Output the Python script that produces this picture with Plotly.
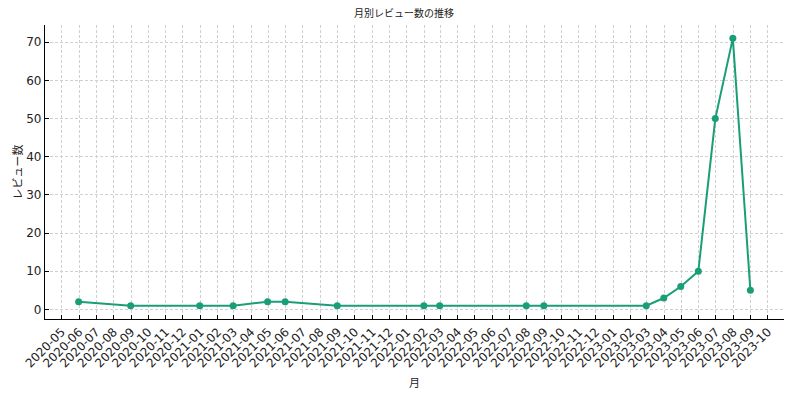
import plotly.graph_objects as go

dates = ["2020-05-31", "2020-08-31", "2020-12-31", "2021-02-28", "2021-04-30",
         "2021-05-31", "2021-08-31", "2022-01-31", "2022-02-28", "2022-07-31",
         "2022-08-31", "2023-02-28", "2023-03-31", "2023-04-30", "2023-05-31",
         "2023-06-30", "2023-07-31", "2023-08-31"]
counts = [2, 1, 1, 1, 2, 2, 1, 1, 1, 1, 1, 1, 3, 6, 10, 50, 71, 5]

title_text = "月別レビュー数の推移"
x_label = "月"
y_label = "レビュー数"

font_family = "DejaVu Sans, Noto Sans CJK JP, sans-serif"
color = "#1a9e77"

fig = go.Figure(go.Scatter(
    x=dates, y=counts, mode="lines+markers",
    line=dict(color=color, width=2),
    marker=dict(color=color, size=7),
))

axis_common = dict(
    showline=True, linecolor="black", linewidth=1.2,
    ticks="inside", ticklen=4, tickcolor="black",
    showgrid=True, gridcolor="#d0d0d0", gridwidth=0.8, griddash="3px,2px",
    zeroline=False, mirror=False,
    tickfont=dict(family=font_family, size=12, color="#222"),
)

# page has an 8px body margin, so the figure is 8px smaller and left/top margins shifted
fig.update_layout(
    width=792, height=389,
    margin=dict(l=37.3, r=15.5, t=17, b=77.7),
    paper_bgcolor="white", plot_bgcolor="white",
    showlegend=False,
    font=dict(family=font_family),
    title=dict(text=title_text, x=0.5, xanchor="center", y=1 - 5 / 389, yanchor="middle",
               font=dict(family=font_family, size=10, color="#222")),
    xaxis=dict(
        **axis_common,
        type="date", range=["2020-04-01 14:24", "2023-10-29 09:36"],
        tick0="2020-05-01", dtick="M1", tickformat="%Y-%m", tickangle=-45,
        title=dict(text=x_label, font=dict(family=font_family, size=11, color="#222"), standoff=9),
        automargin=False,
    ),
    yaxis=dict(
        **axis_common,
        range=[-2.5, 74.5], tick0=0, dtick=10,
        title=dict(text=y_label, font=dict(family=font_family, size=11, color="#222"), standoff=1),
        automargin=False,
    ),
)

fig.write_html("out.html")
